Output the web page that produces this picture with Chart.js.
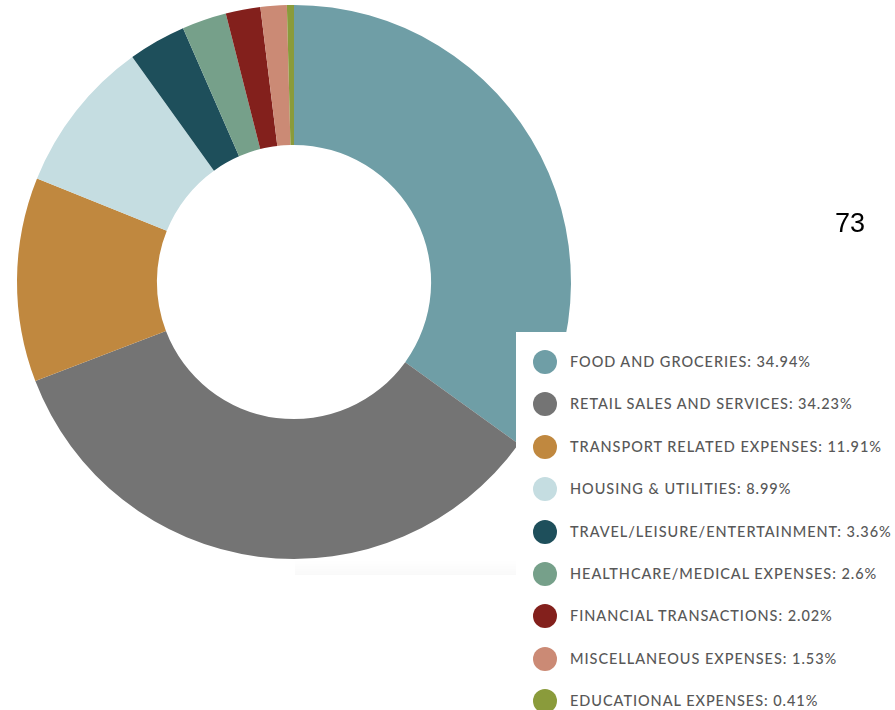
<!DOCTYPE html>
<html>
<head>
<meta charset="utf-8">
<script src="https://cdn.jsdelivr.net/npm/chart.js@4/dist/chart.umd.min.js"></script>
<style>
  html, body { margin: 0; padding: 0; background: #ffffff; }
  #wrap { position: relative; width: 895px; height: 710px; overflow: hidden; background: #ffffff; }
  #chart { position: absolute; left: 0; top: 0; }
  #shade {
    position: absolute; left: 295px; top: 560px; width: 221px; height: 15px;
    background: linear-gradient(to bottom, rgba(0,0,0,0.0), rgba(0,0,0,0.025));
  }
  #num {
    position: absolute; left: 820px; top: 208px; width: 60px; text-align: center;
    font-family: "Liberation Sans", Arial, sans-serif; font-size: 27px; color: #000;
  }
  #legend {
    position: absolute; left: 516px; top: 332px; right: 0; bottom: 0;
    background: #ffffff;
  }
  .item { position: absolute; left: 0; height: 24px; }
  .dot { position: absolute; left: 17px; top: 0; width: 24px; height: 24px; border-radius: 50%; }
  .txt {
    position: absolute; left: 54px; top: 0; white-space: nowrap;
    font-family: "Lato", "Open Sans", sans-serif; font-size: 14.5px; font-weight: 500;
    color: #585858; line-height: 24px;
  }
</style>
</head>
<body>
<div id="wrap">
  <canvas id="chart" width="895" height="710"></canvas>
  <div id="shade"></div>
  <div id="num">73</div>
  <div id="legend"></div>
</div>
<script>
// Spending categories and their shares (%)
const categories = [
  "FOOD AND GROCERIES",
  "RETAIL SALES AND SERVICES",
  "TRANSPORT RELATED EXPENSES",
  "HOUSING & UTILITIES",
  "TRAVEL/LEISURE/ENTERTAINMENT",
  "HEALTHCARE/MEDICAL EXPENSES",
  "FINANCIAL TRANSACTIONS",
  "MISCELLANEOUS EXPENSES",
  "EDUCATIONAL EXPENSES"
];
const shares = [34.94, 34.23, 11.91, 8.99, 3.36, 2.6, 2.02, 1.53, 0.41];
const palette = [
  "#6f9ea6", "#747474", "#c0883f", "#c5dde1", "#1e4f5b",
  "#76a08a", "#83201c", "#cb8a75", "#8a9b3b"
];

new Chart(document.getElementById("chart"), {
  type: "doughnut",
  data: {
    labels: categories,
    datasets: [{
      data: shares,
      backgroundColor: palette,
      borderWidth: 0,
      hoverOffset: 0
    }]
  },
  options: {
    responsive: false,
    animation: false,
    cutout: "49.5%",
    layout: { padding: { left: 17, top: 5, right: 324, bottom: 151 } },
    plugins: {
      legend: { display: false },
      tooltip: { enabled: false }
    }
  }
});

// Legend panel
const legend = document.getElementById("legend");
const rowStart = 18, rowStep = 42.4;
categories.forEach((name, i) => {
  const item = document.createElement("div");
  item.className = "item";
  item.style.top = (rowStart + i * rowStep) + "px";
  const dot = document.createElement("div");
  dot.className = "dot";
  dot.style.background = palette[i];
  const txt = document.createElement("div");
  txt.className = "txt";
  txt.textContent = name + ": " + shares[i] + "%";
  item.appendChild(dot);
  item.appendChild(txt);
  legend.appendChild(item);
});

// Spread the label letters so the first entry spans 241px
const first = legend.querySelector(".txt");
const natural = first.getBoundingClientRect().width;
const spacing = (241 - natural) / first.textContent.length;
legend.querySelectorAll(".txt").forEach(t => { t.style.letterSpacing = spacing + "px"; });
</script>
</body>
</html>
